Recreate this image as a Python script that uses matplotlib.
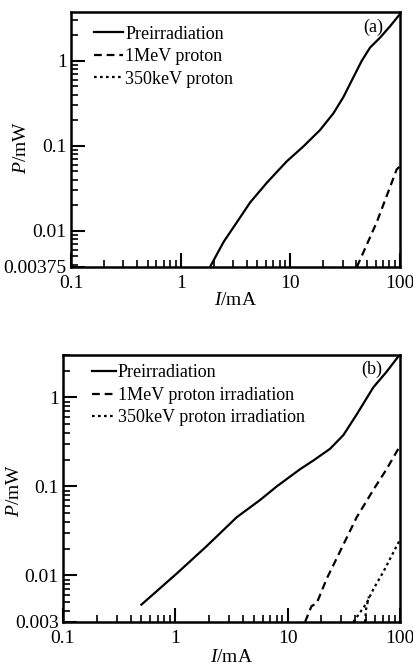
import matplotlib
matplotlib.use("Agg")
import matplotlib.pyplot as plt
from matplotlib.ticker import LogLocator, NullFormatter

plt.rcParams['font.family'] = ['Liberation Serif', 'DejaVu Serif']
plt.rcParams['mathtext.fontset'] = 'custom'
plt.rcParams['mathtext.rm'] = 'Liberation Serif'
plt.rcParams['mathtext.it'] = 'Liberation Serif:italic'

# panel (a)
a_pre_i = [1.85, 2.46, 3.25, 4.3, 6.1, 9.27, 13.1, 18.6, 24.6, 30.4, 37.5, 44.7, 53.2, 65.6, 81.0, 96.0, 100.0]
a_pre_p = [0.00375, 0.0074, 0.0126, 0.0216, 0.0368, 0.0657, 0.098, 0.153, 0.24, 0.374, 0.64, 1.0, 1.43, 1.87, 2.55, 3.34, 3.55]
a_1mev_i = [40.3, 61.2, 93.0, 100.0]
a_1mev_p = [0.00375, 0.0126, 0.0526, 0.058]
a_350_i = []
a_350_p = []

# panel (b)
b_pre_i = [0.5, 1.03, 1.9, 3.52, 5.68, 8.0, 12.9, 16.9, 23.9, 31.4, 41.2, 58.0, 76.0, 96.8, 100.0]
b_pre_p = [0.0047, 0.0105, 0.0213, 0.045, 0.0703, 0.1, 0.156, 0.195, 0.265, 0.378, 0.643, 1.30, 1.94, 2.89, 3.0]
b_1mev_i = [14.3, 16.3, 18.2, 22.3, 29.3, 41.2, 58.0, 76.0, 96.8, 100.0]
b_1mev_p = [0.003, 0.0045, 0.0049, 0.0092, 0.0186, 0.045, 0.0916, 0.156, 0.265, 0.28]
b_350_i = [38.5, 50.6, 58.0, 71.0, 96.8, 100.0]
b_350_p = [0.003, 0.0049, 0.0070, 0.0109, 0.0233, 0.025]
b_350b_i = [48.9, 50.0, 53.0]
b_350b_p = [0.003, 0.0042, 0.0058]

x_ticks = [0.1, 1, 10, 100]
x_labels = ["0.1", "1", "10", "100"]


def setup(ax, ymin, ymax, ylabels, yticks, tag, tagpos, names, leg_xy, hlen, ylab_xy, xpad, xlpad):
    ax.set_xscale("log")
    ax.set_yscale("log")
    ax.set_xlim(0.1, 100)
    ax.set_ylim(ymin, ymax)
    ax.set_xticks(x_ticks)
    ax.set_xticklabels(x_labels)
    ax.set_yticks(yticks)
    ax.set_yticklabels(ylabels)
    ax.xaxis.set_minor_locator(LogLocator(base=10, subs=range(2, 10)))
    ax.yaxis.set_minor_locator(LogLocator(base=10, subs=range(2, 10)))
    ax.xaxis.set_minor_formatter(NullFormatter())
    ax.yaxis.set_minor_formatter(NullFormatter())
    ax.tick_params(which="major", direction="in", length=10, width=1.5, labelsize=14, pad=3)
    ax.tick_params(axis="x", which="major", pad=xpad)
    ax.tick_params(which="minor", direction="in", length=5, width=1.2)
    for s in ax.spines.values():
        s.set_linewidth(1.8)
    ax.set_xlabel("$\\mathit{I}$/mA", fontsize=14, labelpad=xlpad)
    ax.set_ylabel("$\\mathit{P}$/mW", fontsize=14)
    ax.yaxis.set_label_coords(*ylab_xy)
    ax.text(tagpos[0], tagpos[1], tag, transform=ax.transAxes, ha="right", va="top", fontsize=13)
    ax.legend(names, loc="upper left", frameon=False, fontsize=13,
              handlelength=hlen, handletextpad=0.1, labelspacing=0.3,
              borderaxespad=0.0, borderpad=0.2, bbox_to_anchor=leg_xy)


fig = plt.figure(figsize=(4.14, 6.65), dpi=100)

ax1 = fig.add_axes([0.1715, 0.5985, 0.795, 0.3835])
ax1.plot(a_pre_i, a_pre_p, "k-", lw=1.6)
ax1.plot(a_1mev_i, a_1mev_p, "k", ls=(0, (3.5, 2.2)), lw=1.6)
ax1.plot(a_350_i, a_350_p, "k", ls=(0, (1.2, 1.5)), lw=1.6)
setup(ax1, 0.00375, 3.75, ["0.00375", "0.01", "0.1", "1"], [0.00375, 0.01, 0.1, 1], "(a)",
      (0.948, 0.975), ["Preirradiation", "1MeV proton", "350keV proton"], (0.06, 0.96), 1.6,
      (-0.125, 0.47), 6, 0)

ax2 = fig.add_axes([0.152, 0.0647, 0.814, 0.4015])
ax2.plot(b_pre_i, b_pre_p, "k-", lw=1.6)
ax2.plot(b_1mev_i, b_1mev_p, "k", ls=(0, (3.5, 2.2)), lw=1.6)
ax2.plot(b_350_i, b_350_p, "k", ls=(0, (1.2, 1.5)), lw=1.6)
ax2.plot(b_350b_i, b_350b_p, "k", ls=(0, (1.2, 1.5)), lw=1.6)
setup(ax2, 0.003, 3.0, ["0.003", "0.01", "0.1", "1"], [0.003, 0.01, 0.1, 1], "(b)",
      (0.948, 0.977), ["Preirradiation", "1MeV proton irradiation", "350keV proton irradiation"],
      (0.075, 0.978), 1.35, (-0.118, 0.494), 6, 1)

fig.savefig("out.png", dpi=100)
